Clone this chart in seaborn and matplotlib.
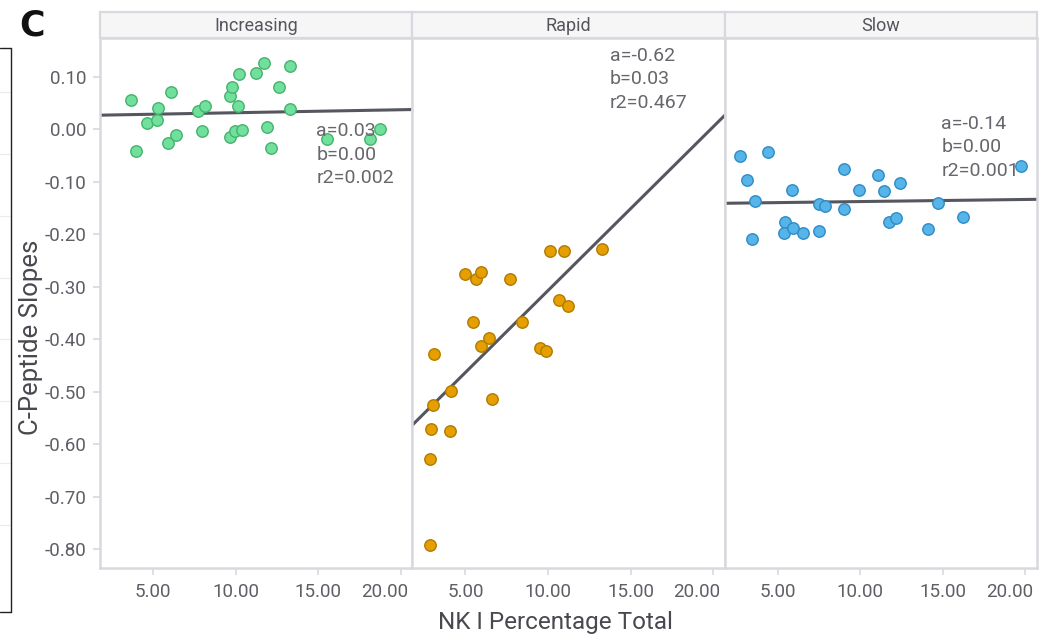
import matplotlib
matplotlib.use("Agg")
import matplotlib.pyplot as plt
import numpy as np
import pandas as pd
import seaborn as sns
from matplotlib.patches import Rectangle
from matplotlib.lines import Line2D

# ---------------- data ----------------
groups = ["Increasing", "Rapid", "Slow"]

inc_x = [3.67, 3.97, 4.63, 5.22, 5.30, 6.09, 5.91, 6.39, 7.73, 8.13, 7.95, 9.67, 9.77, 10.17,
         10.15, 9.67, 9.95, 10.36, 11.21, 11.71, 11.92, 12.13, 12.63, 13.29, 13.29, 15.51,
         18.12, 18.72]
inc_y = [0.056, -0.041, 0.012, 0.017, 0.041, 0.072, -0.026, -0.011, 0.035, 0.045, -0.004,
         0.063, 0.081, 0.106, 0.045, -0.014, -0.004, -0.001, 0.108, 0.127, 0.005, -0.035,
         0.081, 0.121, 0.038, -0.018, -0.018, 0.000]

rap_x = [2.82, 2.82, 2.93, 3.02, 3.12, 4.08, 4.10, 4.96, 5.45, 5.63, 5.94, 5.94, 6.41, 6.61,
         7.68, 8.44, 9.51, 9.90, 10.09, 10.96, 10.66, 11.23, 13.27]
rap_y = [-0.792, -0.628, -0.571, -0.525, -0.428, -0.574, -0.499, -0.276, -0.368, -0.286,
         -0.271, -0.413, -0.398, -0.514, -0.286, -0.368, -0.416, -0.423, -0.231, -0.231,
         -0.325, -0.337, -0.228]

slo_x = [2.72, 3.13, 3.61, 3.41, 4.38, 5.83, 5.43, 5.35, 5.93, 6.52, 7.47, 7.86, 7.49, 8.99,
         8.99, 9.90, 11.05, 11.45, 12.38, 11.71, 12.14, 14.11, 14.72, 16.24, 19.71]
slo_y = [-0.051, -0.097, -0.137, -0.209, -0.044, -0.115, -0.176, -0.197, -0.188, -0.197,
         -0.142, -0.146, -0.194, -0.075, -0.152, -0.115, -0.087, -0.118, -0.103, -0.176,
         -0.169, -0.190, -0.140, -0.167, -0.069]

annot = {
    "Increasing": ["a=0.03", "b=0.00", "r2=0.002"],
    "Rapid": ["a=-0.62", "b=0.03", "r2=0.467"],
    "Slow": ["a=-0.14", "b=0.00", "r2=0.001"],
}

x_ticks = [5, 10, 15, 20]
y_ticks = [0.10, 0.00, -0.10, -0.20, -0.30, -0.40, -0.50, -0.60, -0.70, -0.80]

x_label = "NK I Percentage Total"
y_label = "C-Peptide Slopes"
panel_letter = "C"

df = pd.concat([
    pd.DataFrame({"group": "Increasing", "nk": inc_x, "slope": inc_y}),
    pd.DataFrame({"group": "Rapid", "nk": rap_x, "slope": rap_y}),
    pd.DataFrame({"group": "Slow", "nk": slo_x, "slope": slo_y}),
])

# ---------------- styling ----------------
face = {"Increasing": "#70E09C", "Rapid": "#E69F00", "Slow": "#56B4E9"}
edge = {"Increasing": "#43B36D", "Rapid": "#B27B00", "Slow": "#2E8CC6"}
annot_pos = {"Increasing": (0.693, 0.824), "Rapid": (0.633, 0.966), "Slow": (0.694, 0.838)}

sns.set_theme(style="white")
plt.rcParams["font.family"] = ["Roboto", "DejaVu Sans"]
plt.rcParams["axes.unicode_minus"] = False

W, H = 1043, 640
fig = plt.figure(figsize=(W / 100, H / 100), dpi=100)

left_px, right_px = 100, 1037
top_px, bottom_px = 38, 568
pw = (right_px - left_px) / 3
ph = bottom_px - top_px

xlim = (1.78, 20.7)
ylim = (-0.836, 0.174)
spine_c = "#D8D8DE"
tick_c = "#5E5E66"
tick_fs = 13.5
tick_len, tick_pad = 5, 6

axes = []
for i, g in enumerate(groups):
    l = (left_px + i * pw) / W
    b = 1 - bottom_px / H
    ax = fig.add_axes([l, b, pw / W, ph / H])
    axes.append(ax)
    ax.set_xlim(*xlim)
    ax.set_ylim(*ylim)
    sub = df[df["group"] == g]
    sns.regplot(data=sub, x="nk", y="slope", ax=ax, ci=None, truncate=False,
                scatter_kws=dict(s=68, color=face[g], edgecolors=edge[g], linewidths=1.0,
                                 alpha=1, zorder=3),
                line_kws=dict(color="#55575E", lw=2.2, zorder=2))
    ax.set_xlim(*xlim)
    ax.set_ylim(*ylim)
    ax.set_xlabel("")
    ax.set_ylabel("")
    ax.set_xticks(x_ticks)
    labels = [f"{v:.2f}" for v in x_ticks]
    ax.set_xticklabels(labels[:-1] + [""], fontsize=tick_fs, color=tick_c)
    # last label is shifted left so it stays inside its panel
    ax.annotate(labels[-1], xy=(x_ticks[-1], 0), xycoords=ax.get_xaxis_transform(),
                xytext=(5.5, -(tick_len + tick_pad)), textcoords="offset points",
                ha="right", va="top", fontsize=tick_fs, color=tick_c)
    ax.set_yticks(y_ticks)
    if i == 0:
        ax.set_yticklabels([f"{v:.2f}" for v in y_ticks], fontsize=tick_fs, color=tick_c)
        ax.tick_params(axis="y", length=tick_len, width=1.2, color=spine_c, pad=5, left=True)
    else:
        ax.tick_params(axis="y", left=False, labelleft=False)
    ax.tick_params(axis="x", length=tick_len, width=1.2, color=spine_c, pad=tick_pad,
                   bottom=True)
    for s in ax.spines.values():
        s.set_color(spine_c)
        s.set_linewidth(1.8)
    ax.grid(False)

    # facet strip
    sh = (top_px - 12.0) / ph
    ax.add_patch(Rectangle((0, 1), 1, sh, transform=ax.transAxes, clip_on=False,
                           facecolor="#F6F6F7", edgecolor=spine_c, lw=1.6, zorder=5))
    ax.text(0.5, 1 + sh / 2 - 1.0 / ph, g, transform=ax.transAxes, ha="center",
            va="center", fontsize=13, color="#55555C", zorder=6)

    # regression annotation (first line centred at the given position)
    ax0, ay0 = annot_pos[g]
    ax.text(ax0, ay0 + 9 / ph, "\n".join(annot[g]), transform=ax.transAxes, ha="left",
            va="top", fontsize=14, color="#66666C", linespacing=1.38, zorder=4)

fig.text(555 / W, 1 - 622 / H, x_label, ha="center", va="center", fontsize=17.5,
         color="#48484E")
fig.text(31 / W, 1 - 337 / H, y_label, ha="center", va="center", rotation=90, fontsize=18.5,
         color="#48484E")
fig.text(32 / W, 1 - 26 / H, panel_letter, ha="center", va="center", fontsize=25,
         fontweight="bold", family="DejaVu Sans", color="#111111")

# clipped neighbouring panel edge at far left
def fl(x0, y0, x1, y1, c, lw):
    fig.add_artist(Line2D([x0 / W, x1 / W], [1 - y0 / H, 1 - y1 / H], color=c, lw=lw))

for yy in [92, 154, 216, 278, 339, 401, 463, 525]:
    fl(0, yy, 10, yy, "#EBEBEB", 0.8)
fl(11, 48, 11, 612, "#222222", 1.0)
fl(0, 48, 11, 48, "#222222", 1.0)
fl(0, 612, 11, 612, "#222222", 1.0)

fig.savefig("out.png", dpi=100)
